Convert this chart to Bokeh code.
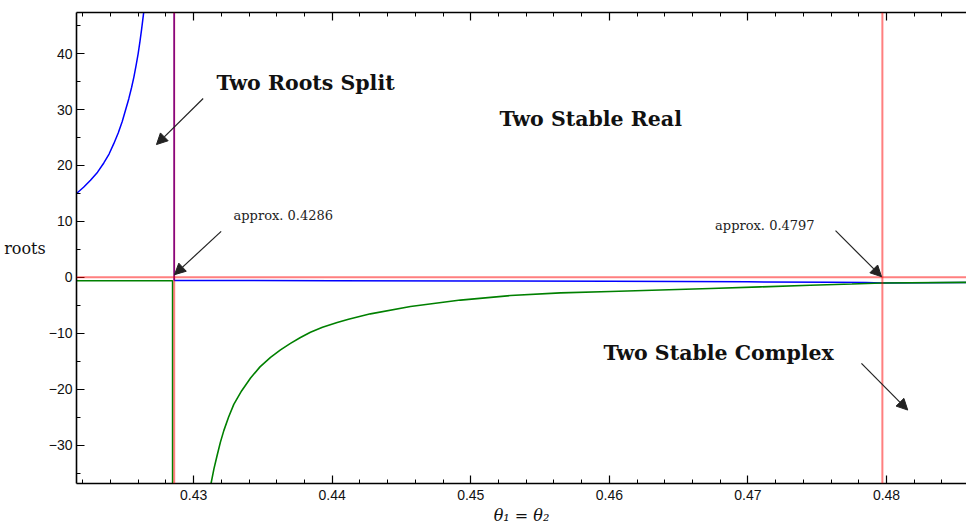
from bokeh.plotting import figure
from bokeh.models import (Label, Arrow, NormalHead, Span, LinearAxis,
                          SingleIntervalTicker, CustomJSTickFormatter)
from bokeh.embed import file_html
from bokeh.resources import INLINE

# ---- data ----
split_x = 0.4286      # two roots split
merge_x = 0.4797      # two stable complex begins

# blue root, left branch (rises to +inf)
blue_left_x = [0.42155, 0.42206, 0.42256, 0.42307, 0.42352, 0.42390, 0.42424,
               0.42456, 0.42485, 0.42510, 0.42532, 0.42552, 0.42569, 0.42585,
               0.42600, 0.42613, 0.42624, 0.42633, 0.42641, 0.42655]
blue_left_y = [15.0, 16.1, 17.35, 18.8, 20.45, 22.05, 23.9, 25.8, 27.85, 30.0, 31.9,
               33.9, 35.8, 37.9, 40.0, 42.2, 44.2, 46.0, 47.6, 51.0]

# blue root, right branch (comes down from +inf at the split)
blue_right_x = [split_x, split_x, 0.44, 0.45, 0.46, 0.47, 0.476, 0.4785, merge_x, 0.48577]
blue_right_y = [60.0, -0.55, -0.60, -0.65, -0.71, -0.80, -0.88, -0.93, -1.0, -0.9]

# green root, left branch (drops to -inf just before the split)
green_left_x = [0.42155, 0.42848, 0.42848]
green_left_y = [-0.6, -0.6, -60.0]

# green root, right branch (rises from -inf)
green_right_x = [0.43100, 0.43127, 0.43147, 0.43170, 0.43193, 0.43218, 0.43252,
                 0.43290, 0.43346, 0.43411, 0.43479, 0.43555, 0.43627, 0.43699,
                 0.43771, 0.43843, 0.43930, 0.44036, 0.44118, 0.44204, 0.44276,
                 0.44565, 0.44926, 0.45286, 0.45647, 0.46008, 0.46369, 0.4673,
                 0.4709, 0.4745, 0.4775, 0.47966, 0.48577]
green_right_y = [-40.0, -36.7, -34.2, -31.8, -29.5, -27.4, -25.0, -22.7, -20.3,
                 -18.0, -16.0, -14.3, -12.95, -11.8, -10.75, -9.8, -8.92, -8.05,
                 -7.48, -6.95, -6.52, -5.22, -4.06, -3.25, -2.78, -2.52, -2.25,
                 -1.98, -1.70, -1.42, -1.18, -1.0, -0.9]

x_start, x_end = 0.42155, 0.48577
y_start, y_end = -36.85, 47.35

p = figure(width=966, height=527, x_range=(x_start, x_end), y_range=(y_start, y_end),
           output_backend="svg", toolbar_location=None,
           min_border_left=76, min_border_right=0, min_border_top=12, min_border_bottom=44)
p.grid.visible = False
p.outline_line_color = None
p.background_fill_color = "white"
p.border_fill_color = "white"

p.line(blue_left_x, blue_left_y, line_color="#0000ff", line_width=1.5)
p.line(blue_right_x, blue_right_y, line_color="#0000ff", line_width=1.5)
p.line(green_left_x, green_left_y, line_color="#008000", line_width=1.5)
p.line(green_right_x, green_right_y, line_color="#008000", line_width=1.6)

for sp in [Span(location=0, dimension="width"),
           Span(location=split_x, dimension="height"),
           Span(location=merge_x, dimension="height")]:
    sp.line_color = "#ff0000"
    sp.line_alpha = 0.5
    sp.line_width = 2
    p.add_layout(sp)

def style_axis(ax):
    ax.axis_line_color = "black"
    ax.axis_line_width = 1.6
    ax.major_tick_line_color = "black"
    ax.minor_tick_line_color = "black"
    ax.major_tick_line_width = 1.2
    ax.minor_tick_line_width = 1
    ax.major_tick_in = 8
    ax.major_tick_out = 0
    ax.minor_tick_in = 4
    ax.minor_tick_out = 0
    ax.major_label_text_font = "Liberation Sans"
    ax.major_label_text_font_size = "14px"
    ax.major_label_text_color = "#111111"

p.xaxis.ticker = SingleIntervalTicker(interval=0.01, num_minor_ticks=5)
p.yaxis.ticker = SingleIntervalTicker(interval=10, num_minor_ticks=2)
p.yaxis.formatter = CustomJSTickFormatter(
    code="return (tick < 0 ? '\\u2212' : '') + Math.abs(Math.round(tick));")
style_axis(p.xaxis[0])
style_axis(p.yaxis[0])
p.xaxis.major_label_standoff = 6
p.yaxis.major_label_standoff = 4

p.xaxis.axis_label = "θ₁ = θ₂"
p.xaxis.axis_label_text_font = "DejaVu Serif"
p.xaxis.axis_label_text_font_style = "italic"
p.xaxis.axis_label_text_font_size = "16px"
p.xaxis.axis_label_text_color = "#111111"
p.xaxis.axis_label_standoff = 3

p.yaxis.axis_label = "roots"
p.yaxis.axis_label_orientation = "horizontal"
p.yaxis.axis_label_text_font = "DejaVu Serif"
p.yaxis.axis_label_text_font_style = "normal"
p.yaxis.axis_label_text_font_size = "16px"
p.yaxis.axis_label_text_color = "#111111"
p.yaxis.axis_label_standoff = 0

top = LinearAxis(ticker=SingleIntervalTicker(interval=0.01, num_minor_ticks=5),
                 formatter=CustomJSTickFormatter(code="return '';"))
style_axis(top)
top.major_label_standoff = 0
p.add_layout(top, "above")

bold = dict(text_font="DejaVu Serif", text_font_style="bold", text_font_size="20.5px",
            text_align="left", text_baseline="middle", text_color="#111111")
p.add_layout(Label(x=0.43165, y=34.8, text="Two Roots Split", **bold))
p.add_layout(Label(x=0.45207, y=28.4, text="Two Stable Real", **bold))
p.add_layout(Label(x=0.45957, y=-13.5, text="Two Stable Complex", **bold))

small = dict(text_font="DejaVu Serif", text_font_size="13px", text_align="left",
             text_baseline="middle", text_color="#222222")
p.add_layout(Label(x=0.43288, y=11.0, text="approx. 0.4286", **small))
p.add_layout(Label(x=0.46763, y=9.25, text="approx. 0.4797", **small))

arrows = [(0.43069, 31.97, 0.42732, 23.74),
          (0.43199, 8.23, 0.42862, 0.48),
          (0.47632, 8.35, 0.47964, 0.12),
          (0.47819, -15.38, 0.48153, -23.72)]
for xs, ys, xe, ye in arrows:
    p.add_layout(Arrow(x_start=xs, y_start=ys, x_end=xe, y_end=ye,
                       line_color="#222222", line_width=1.2,
                       end=NormalHead(size=11, fill_color="#222222", line_color="#222222")))

open("out.html", "w").write(file_html(p, INLINE))
